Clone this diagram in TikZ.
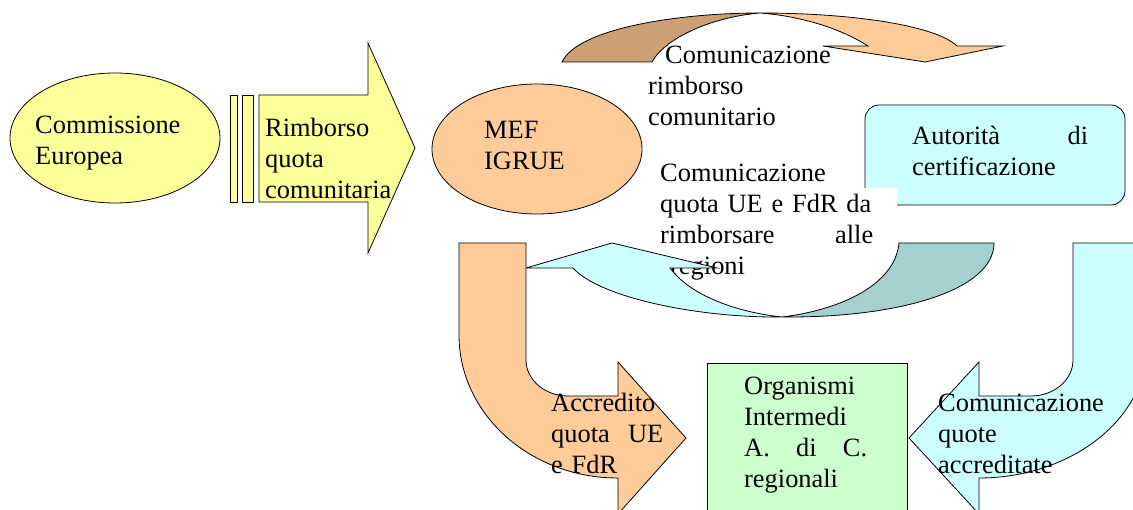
\documentclass[tikz,border=0pt]{standalone}
\usepackage{fontspec}
\setmainfont{Liberation Serif}
\usepackage{tikz}
\usetikzlibrary{shapes.geometric}
\usetikzlibrary{positioning}
\definecolor{myellow}{HTML}{FFFF99}
\definecolor{morange}{HTML}{FFCC99}
\definecolor{mbrown}{HTML}{CC9F74}
\definecolor{mcyan}{HTML}{CCFFFF}
\definecolor{mteal}{HTML}{A6CFCF}
\definecolor{mgreen}{HTML}{CCFFCC}
\tikzset{txt/.style = {anchor=base west, inner sep=0pt, align=left,
                       font=\fontsize{26.4}{31}\selectfont},
         blk/.style = {draw, line width=0.8pt}}

\begin{document}
\begin{tikzpicture}[x=1pt, y=-1pt]
    \useasboundingbox (0,0) rectangle (1133,510);

    \node [blk, ellipse, fill=myellow, minimum width=210, minimum height=130] (ce) at (115,138) {};
    \node [txt, text width=170] (cetxt) at (35,134) {Commissione\\Europea};

    \draw [blk, fill=myellow] (230,95) rectangle (237,202);
    \draw [blk, fill=myellow] (242,95) rectangle (253,202);
    \draw [blk, fill=myellow] (259,95) -- (368,95) -- (368,43) -- (415,148) -- (368,253) -- (368,202) -- (259,202) -- cycle;
    \node [txt, text width=140] (rq) at (265,137) {Rimborso\\quota\\comunitaria};

    \node [blk, ellipse, fill=morange, minimum width=210, minimum height=130] (mef) at (537,149) {};
    \node [txt, text width=100] (meftxt) at (484,139) {MEF\\IGRUE};

    % top curved arrow
    \draw [blk, fill=mbrown] (562,62) .. controls (578,28) and (680,13) .. (760,13)
        .. controls (712,17) and (665,38) .. (652,62) -- cycle;
    \draw [blk, fill=morange] (760,13) .. controls (850,13) and (935,25) .. (957,46) -- (1003,46)
        -- (925,62) -- (823,46) -- (868,46) .. controls (840,28) and (800,16) .. (760,13);
    \node [txt, text width=200] (crc) at (648,64) {\hspace*{17pt}Comunicazione\\rimborso\\comunitario};

    \node [blk, rounded corners=14, fill=mcyan, minimum width=260, minimum height=100] (ac) at (995,155) {};
    \node [txt, text width=176] (actxt) at (912,145) {Autorit\`a\hfill di\\certificazione};

    \fill [white] (655,188) rectangle (897,282);
    \node [txt, text width=213] (cq) at (660,182)
        {Comunicazione\\quota UE e FdR da\\rimborsare\hfill alle\\\hspace*{10pt}regioni};

    % bottom curved arrow
    \draw [blk, fill=mcyan] (526,268) -- (612,243) -- (717,268) -- (670,268)
        .. controls (690,295) and (735,312) .. (782,317)
        .. controls (700,318) and (600,298) .. (573,268) -- cycle;
    \draw [blk, fill=mteal] (899,243) -- (994,243) .. controls (994,290) and (900,318) .. (782,317)
        .. controls (840,310) and (895,285) .. (899,243) -- cycle;

    % side arrows
    \draw [blk, fill=morange] (459,243) -- (526,243) -- (526,360) .. controls (526,380) and (545,396) .. (568,396)
        -- (618,396) -- (618,362) -- (686,438) -- (618,514) -- (618,478)
        .. controls (530,478) and (459,414) .. (459,335) -- cycle;
    \draw [blk, fill=mcyan] (1140,243) -- (1073,243) -- (1073,360) .. controls (1073,380) and (1054,396) .. (1031,396)
        -- (979,396) -- (979,362) -- (909,438) -- (979,514) -- (979,478)
        .. controls (1070,478) and (1147,420) .. (1147,345) -- cycle;

    \node [blk, anchor=north west, fill=mgreen, minimum width=200, minimum height=170] (oi) at (707,363) {};
    \node [txt, text width=123] (oitxt) at (744,395) {Organismi\\Intermedi\\A.\hfill di\hfill C.\\regionali};

    \node [txt, text width=112] (acc) at (551,412) {Accredito\\quota\hfill UE\\e FdR};
    \node [txt, text width=180] (cqa) at (938,412) {Comunicazione\\quote\\accreditate};
  \end{tikzpicture}
\end{document}
